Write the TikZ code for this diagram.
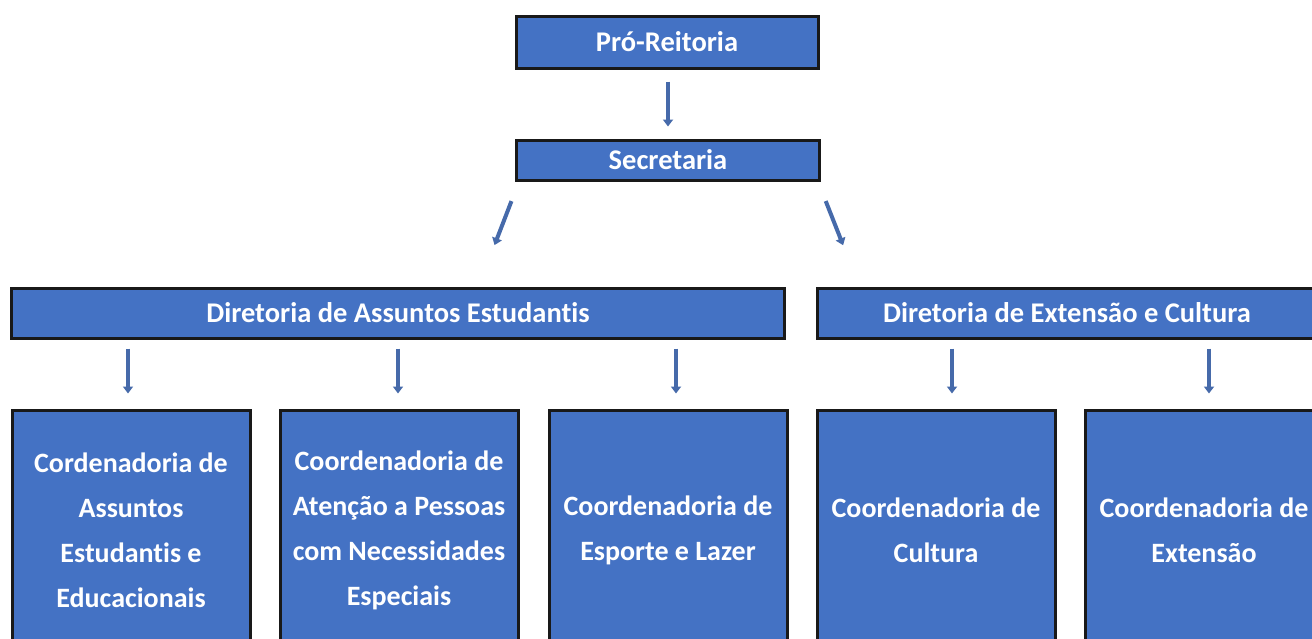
\documentclass[tikz,border=0pt]{standalone}
\usepackage{fontspec}
\setmainfont{Carlito}[Ligatures=NoCommon]
\usetikzlibrary{arrows.meta}
\definecolor{boxblue}{RGB}{68,114,196}
\definecolor{arrowblue}{RGB}{70,106,170}

\begin{document}
\begin{tikzpicture}[x=1pt, y=-1pt,
    unit/.style = {draw=black!90, line width=3pt, fill=boxblue, text=white, font=\bfseries\fontsize{28.5}{32}\selectfont, inner sep=0pt},
    coord/.style = {unit, minimum width=238pt, minimum height=240pt, align=center, font=\bfseries\fontsize{28}{45}\selectfont},
    arr/.style = {arrowblue, line width=4pt, -{Triangle[width=10pt,length=7pt]}}]

            \useasboundingbox [fill=white] (0,0) rectangle (1312,638);
            \clip (0,0) rectangle (1312,638);

            % top of the chart
            \node [unit, minimum width=302pt, minimum height=52pt] (pro) at (667,42) {Pró-Reitoria};
            \node [unit, minimum width=303pt, minimum height=40pt] (sec) at (668,160) {Secretaria};

            % the two directorates
            \node [unit, minimum width=773pt, minimum height=50pt] (dae) at (398,313) {Diretoria de Assuntos Estudantis};
            \node [unit, minimum width=500pt, minimum height=50pt] (dec) at (1067,313) {Diretoria de Extensão e Cultura};

            % the coordinations
            \node [coord] (c1) at (131,530) {Cordenadoria de\\Assuntos\\Estudantis e\\Educacionais};
            \node [coord] (c2) at (399,530) {Coordenadoria de\\Atenção a Pessoas\\com Necessidades\\Especiais};
            \node [coord] (c3) at (668,530) {Coordenadoria de\\Esporte e Lazer};
            \node [coord] (c4) at (936,530) {Coordenadoria de\\Cultura};
            \node [coord] (c5) at (1204,530) {Coordenadoria de\\Extensão};

            \coordinate (dl) at (478,288);
            \coordinate (dr) at (860,288);

            \draw [arr, shorten <=12pt, shorten >=12pt] (pro.south -| 668,0) -- (sec.north -| 668,0);
            \draw [arr, shorten <=21pt, shorten >=46pt] ([xshift=4pt]sec.south west) -- (dl);
            \draw [arr, shorten <=21pt, shorten >=46pt] ([xshift=-3pt]sec.south east) -- (dr);
            \foreach \d/\c/\x in {dae/c1/128, dae/c2/398, dae/c3/676, dec/c4/952, dec/c5/1209} {
              \draw [arr, shorten <=9pt, shorten >=15pt] (\d.south -| \x,0) -- (\c.north -| \x,0);
            }
            \end{tikzpicture}
\end{document}
